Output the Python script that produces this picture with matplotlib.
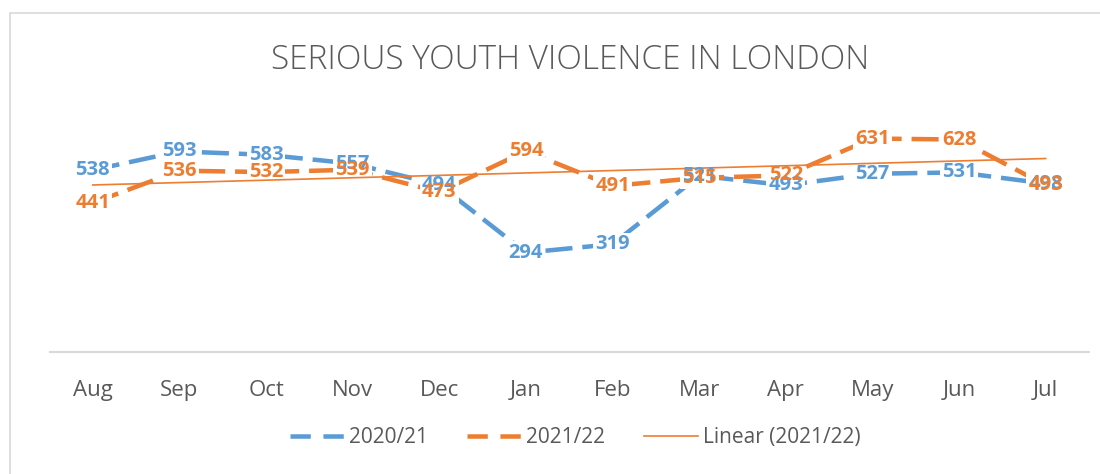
import numpy as np
import matplotlib.pyplot as plt
from matplotlib.lines import Line2D
from matplotlib.patches import Rectangle
from matplotlib.transforms import IdentityTransform

#===========================================================#

months = ["Aug", "Sep", "Oct", "Nov", "Dec", "Jan", "Feb", "Mar", "Apr", "May", "Jun", "Jul"]
y2020 = [538, 593, 583, 557, 494, 294, 319, 521, 493, 527, 531, 498]
y2021 = [441, 536, 532, 539, 473, 594, 491, 515, 522, 631, 628, 493]

blue = "#5B9BD5"
orange = "#ED7D31"
grey = "#595959"

#===========================================================#

plt.rcParams['font.family'] = ['Open Sans', 'DejaVu Sans']

fig = plt.figure(figsize=(11, 4.74), dpi=100)
ax = fig.add_axes([0.045, 0.257, 0.945, 0.50])

x = np.arange(len(months))

ax.plot(x, y2020, color=blue, lw=3.25, dashes=(6, 2.2), zorder=2)
ax.plot(x, y2021, color=orange, lw=3.25, dashes=(6, 2.2), zorder=3)

# trend line for 2021/22
k, b = np.polyfit(x, y2021, 1)
ax.plot(x, k * x + b, color=orange, lw=1.2, zorder=5)

# data labels
labels = []
for series, col, z in [(y2020, blue, 6), (y2021, orange, 7)]:
    for xi, v in zip(x, series):
        t = ax.text(xi, v, str(v), color=col, fontsize=14.5, fontweight='bold',
                    ha='center', va='center', zorder=z)
        labels.append(t)

ax.set_xlim(-0.5, 11.5)
ax.set_ylim(0, 700)
ax.set_yticks([])
ax.set_xticks(x)
ax.set_xticklabels(months, fontsize=16, color=grey)
ax.tick_params(axis='x', length=0, pad=20)
for s in ['top', 'right', 'left']:
    ax.spines[s].set_visible(False)
ax.spines['bottom'].set_color('#D9D9D9')
ax.spines['bottom'].set_linewidth(1.5)

fig.text(0.518, 0.872, "SERIOUS YOUTH VIOLENCE IN LONDON", ha='center', va='center',
         fontsize=24, color=grey, fontweight='light')

handles = [Line2D([], [], color=blue, lw=3.25, dashes=(4.5, 2.8)),
           Line2D([], [], color=orange, lw=3.25, dashes=(4.5, 2.8)),
           Line2D([], [], color=orange, lw=1.2)]
fig.legend(handles, ["2020/21", "2021/22", "Linear (2021/22)"], loc='center',
           bbox_to_anchor=(0.523, 0.076), ncol=3, frameon=False, fontsize=15,
           labelcolor=grey, handlelength=2.6, handletextpad=0.2, columnspacing=1.9)

fig.patches.append(Rectangle((0.009, -0.01), 1.2, 0.983, transform=fig.transFigure,
                             fill=False, ec='#D9D9D9', lw=1.2))

# white boxes behind the labels so the lines break around them
fig.canvas.draw()
for t in labels:
    bb = t.get_window_extent().expanded(1.12, 1.15)
    ax.add_patch(Rectangle((bb.x0, bb.y0), bb.width, bb.height, transform=IdentityTransform(),
                           fc='white', ec='none', zorder=4, clip_on=False))

plt.savefig("out.png")
